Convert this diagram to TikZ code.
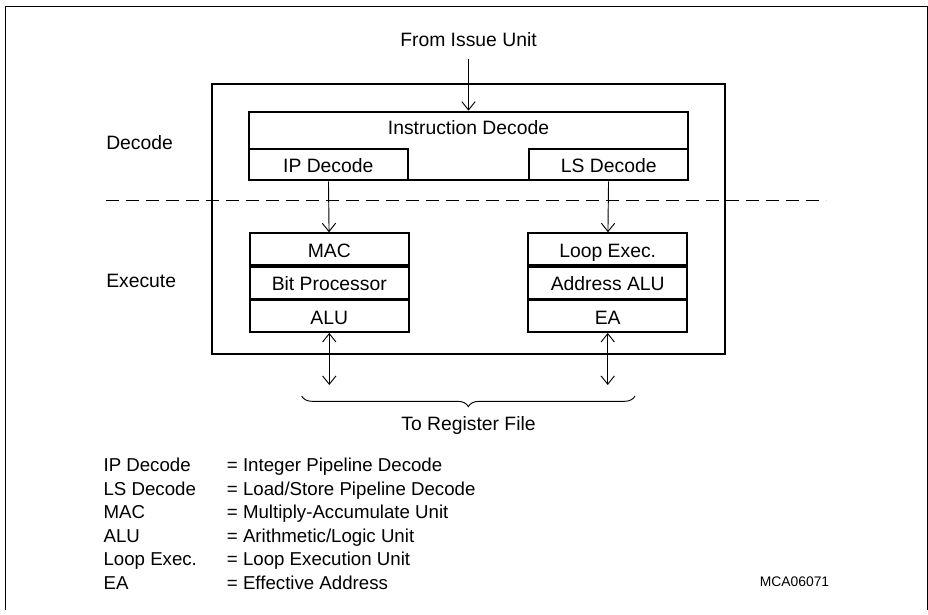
\documentclass[tikz,border=0pt]{standalone}
\usepackage{fontspec}
\setmainfont{Liberation Sans}
\usetikzlibrary{arrows.meta,positioning,decorations.pathreplacing}
\newcommand{\lblfont}{\fontsize{14.5}{17}\selectfont}
\newcommand{\keyfont}{\fontsize{14}{17}\selectfont}
\newcommand{\tagfont}{\fontsize{10.4}{12}\selectfont}

\begin{document}
\begin{tikzpicture}[x=0.75pt,y=-0.75pt,
  unitbox/.style={draw,line width=1.4pt,minimum width=119pt,minimum height=23.75pt,inner sep=0pt,text height=12.4pt,text depth=0pt,font=\lblfont},
  lbl/.style={inner sep=0pt,font=\lblfont},
  keyt/.style={inner sep=0pt,font=\keyfont,anchor=base west},
  link/.style={line width=0.7pt,-{Straight Barb[length=6.25pt,width=10pt]}},
  duplex/.style={line width=0.7pt,{Straight Barb[length=6.25pt,width=10pt]}-{Straight Barb[length=6.25pt,width=10pt]}}]
\useasboundingbox (0,0) rectangle (928,614);
\draw[line width=0.75pt] (5.3,610) -- (5.3,6) -- (927,6) -- (927,610);
\node[lbl] (issue) at (468.5,40) {From Issue Unit};
\node[draw,line width=1.8pt,minimum width=384.75pt,minimum height=202.5pt] (core) at (468.5,219) {};
\node[draw,line width=1.5pt,minimum width=329.25pt,minimum height=51.45pt,anchor=north] (idec) at (468.5,110.7) {};
\node[lbl] (idtxt) at ([yshift=-12.75pt]idec.north) {Instruction Decode};
\node[unitbox,anchor=south west] (ipd) at (idec.south west) {IP Decode};
\node[unitbox,anchor=south east] (lsd) at (idec.south east) {LS Decode};
\node[unitbox,anchor=north west] (mac) at (249,232.3) {MAC};
\node[unitbox,below=0pt of mac] (bitp) {Bit Processor};
\node[unitbox,below=0pt of bitp] (alu) {ALU};
\node[unitbox,anchor=north east] (loop) at (688,232.3) {Loop Exec.};
\node[unitbox,below=0pt of loop] (addr) {Address ALU};
\node[unitbox,below=0pt of addr] (ea) {EA};
\node[lbl,anchor=west] (decl) at (106,142.7) {Decode};
\node[lbl,anchor=west] (exel) at (106,280.7) {Execute};
\coordinate (dashL) at (105.7,200);
\coordinate (dashR) at (825.7,200);
\draw[line width=0.7pt,dash pattern=on 9.75pt off 5.25pt] (dashL) -- (dashR);
\draw[link,shorten <=9pt] (issue) -- (idec);
\draw[link] (ipd) -- (mac);
\draw[link] (lsd) -- (loop);
\coordinate (outL) at (alu.south |- 0,385);
\coordinate (outR) at (ea.south |- 0,385);
\draw[duplex] (alu.south) -- (outL);
\draw[duplex] (ea.south) -- (outR);
\coordinate (brL) at (301.7,396);
\coordinate (brR) at (635,396);
\draw[line width=0.7pt,decorate,decoration={brace,mirror,amplitude=8pt}] (brL) -- (brR);
\node[lbl] (regf) at (468.5,425) {To Register File};
\node[keyt] (k1) at (103.3,471.5) {IP Decode};
\node[keyt] (d1) at (226.7,471.5) {= Integer Pipeline Decode};
\node[keyt] (k2) at (103.3,495) {LS Decode};
\node[keyt] (d2) at (226.7,495) {= Load/Store Pipeline Decode};
\node[keyt] (k3) at (103.3,518.5) {MAC};
\node[keyt] (d3) at (226.7,518.5) {= Multiply-Accumulate Unit};
\node[keyt] (k4) at (103.3,542) {ALU};
\node[keyt] (d4) at (226.7,542) {= Arithmetic/Logic Unit};
\node[keyt] (k5) at (103.3,565.5) {Loop Exec.};
\node[keyt] (d5) at (226.7,565.5) {= Loop Execution Unit};
\node[keyt] (k6) at (103.3,589) {EA};
\node[keyt] (d6) at (226.7,589) {= Effective Address};
\node[inner sep=0pt,font=\tagfont] (tag) at (794.5,582) {MCA06071};
\end{tikzpicture}
\end{document}
